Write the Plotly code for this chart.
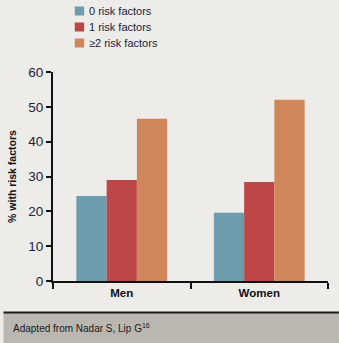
import plotly.graph_objects as go

# Share of patients by number of risk factors, by sex
groups = ["Men", "Women"]
series_names = ["0 risk factors", "1 risk factors", "≥2 risk factors"]
zero_rf = [24.4, 19.6]
one_rf = [29.0, 28.4]
two_plus_rf = [46.6, 52.0]
y_ticks = [0, 10, 20, 30, 40, 50, 60]
footer_text = "Adapted from Nadar S, Lip G<sup>16</sup>"

colors = ["#6C9DAF", "#BD4646", "#D1855A"]
bg = "#EDECE8"
ink = "#1B2240"

W, H = 339, 343
ML, MR, MT, MB = 50, 11, 72, 62
plot_w = W - ML - MR
plot_h = H - MT - MB


def px_x(pixel_x):
    """Convert a page pixel column to paper x coordinate."""
    return (pixel_x - ML) / plot_w


def px_y(pixel_y):
    """Convert a page pixel row to paper y coordinate."""
    return (H - MB - pixel_y) / plot_h


fig = go.Figure()
for name, vals, col in zip(series_names, [zero_rf, one_rf, two_plus_rf], colors):
    fig.add_trace(go.Bar(x=groups, y=vals, name=name, marker_color=col,
                         marker_line_width=0))

fig.update_layout(
    width=W, height=H,
    margin=dict(l=ML, r=MR, t=MT, b=MB),
    paper_bgcolor=bg, plot_bgcolor=bg,
    barmode="group", bargap=0.34, bargroupgap=0,
    font=dict(family="Liberation Sans, Arial, sans-serif", color=ink),
    showlegend=False,
    xaxis=dict(type="category", showgrid=False, showline=True, linecolor="#111",
               linewidth=2, ticks="outside", tickson="boundaries", ticklen=6,
               tickwidth=1.5, tickcolor="#111",
               tickfont=dict(size=11.5, weight="bold", color="#111")),
    yaxis=dict(range=[0, 60], tickvals=y_ticks, showgrid=False, zeroline=False,
               showline=True, linecolor="#111", linewidth=2, ticks="outside",
               ticklen=5, tickwidth=1.5, tickcolor="#111",
               tickfont=dict(size=13.5, color=ink),
               title=dict(text="% with risk factors", standoff=10,
                          font=dict(size=10.5, weight="bold", color="#111"))),
)

# Legend: colour swatches with labels at the top
for i, (name, col) in enumerate(zip(series_names, colors)):
    cy = 11 + 16 * i
    fig.add_shape(type="rect", xref="paper", yref="paper",
                  x0=px_x(72), x1=px_x(81.5), y0=px_y(cy + 4.5), y1=px_y(cy - 4.5),
                  fillcolor=col, line_width=0)
    fig.add_annotation(text=name, xref="paper", yref="paper",
                       x=px_x(84), y=px_y(cy), xanchor="left", yanchor="middle",
                       showarrow=False, font=dict(size=11, color=ink))

# Footer band with source note
fig.add_shape(type="rect", xref="paper", yref="paper",
              x0=px_x(0), x1=px_x(W), y0=px_y(H + 2), y1=px_y(313),
              fillcolor="#BAB7B0", line_width=0, layer="below")
fig.add_shape(type="line", xref="paper", yref="paper",
              x0=px_x(0), x1=px_x(W), y0=px_y(312.5), y1=px_y(312.5),
              line=dict(color="#1a1a1a", width=2))
fig.add_annotation(text=footer_text, xref="paper", yref="paper",
                   x=px_x(8), y=px_y(328), xanchor="left", yanchor="middle",
                   showarrow=False, font=dict(size=10, color="#1a1a1a"))

fig.write_html("out.html")
